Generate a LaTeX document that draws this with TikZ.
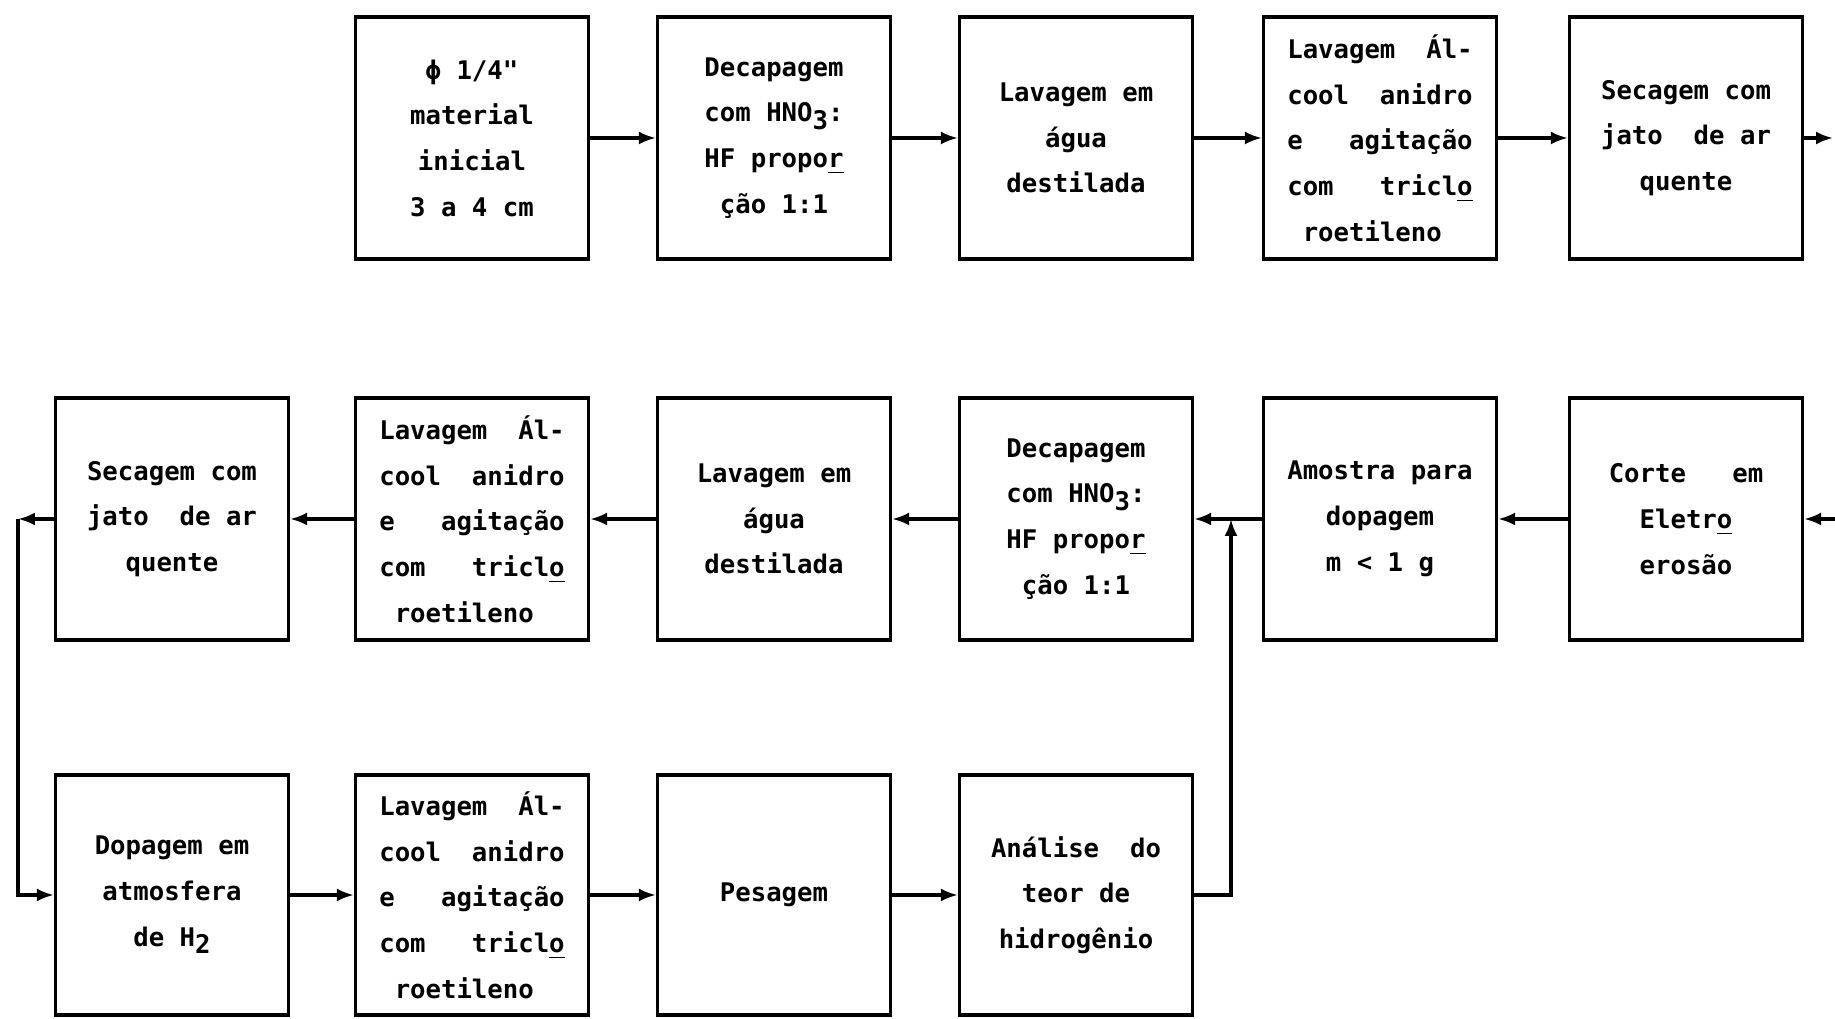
\documentclass[tikz,border=0pt]{standalone}
\usepackage{fontspec}
\setmonofont{DejaVu Sans Mono}
\usetikzlibrary{arrows.meta}
\newcommand{\sbs}[1]{\raisebox{-0.55ex}{#1}}
\newcommand{\lavagemalcool}{Lavagem~~Ál-\\cool~~anidro\\e~~~agitação\\com~~~tricl\underline{o}\\~roetileno}
\tikzset{
  etapa/.style={draw, line width=0.9pt, minimum width=2.33cm, minimum height=2.42cm,
    inner sep=0pt, align=center, font=\ttfamily\bfseries\fontsize{7.3}{13}\selectfont},
  seta/.style={line width=0.9pt, -{Latex[length=1.7mm,width=1.3mm]}}
}
\begin{document}
\begin{tikzpicture}
\useasboundingbox (0,0) rectangle (18.35,10.19);
% primeira linha
\node[etapa] (b1) at (4.72,8.81) {ϕ~1/4"\\material\\inicial\\3~a~4~cm};
\node[etapa] (b2) at (7.74,8.81) {Decapagem\\com HNO\sbs{3}:\\HF propo\underline{r}\\ção 1:1};
\node[etapa] (b3) at (10.76,8.81) {Lavagem em\\água\\destilada};
\node[etapa,align=left] (b4) at (13.80,8.81) {\lavagemalcool};
\node[etapa] (b5) at (16.86,8.81) {Secagem com\\jato~~de~ar\\quente};
% segunda linha
\node[etapa] (c1) at (1.72,5.00) {Secagem com\\jato~~de~ar\\quente};
\node[etapa,align=left] (c2) at (4.72,5.00) {\lavagemalcool};
\node[etapa] (c3) at (7.74,5.00) {Lavagem em\\água\\destilada};
\node[etapa] (c4) at (10.76,5.00) {Decapagem\\com HNO\sbs{3}:\\HF propo\underline{r}\\ção 1:1};
\node[etapa] (c5) at (13.80,5.00) {Amostra para\\dopagem\\m < 1 g};
\node[etapa] (c6) at (16.86,5.00) {Corte~~~em\\Eletr\underline{o}\\erosão};
% terceira linha
\node[etapa,minimum height=2.40cm] (d1) at (1.72,1.24) {Dopagem em\\atmosfera\\de H\sbs{2}};
\node[etapa,minimum height=2.40cm,align=left] (d2) at (4.72,1.24) {\lavagemalcool};
\node[etapa,minimum height=2.40cm] (d3) at (7.74,1.24) {Pesagem};
\node[etapa,minimum height=2.40cm] (d4) at (10.76,1.24) {Análise~~do\\teor de\\hidrogênio};
% setas
\coordinate (saida) at (18.33,8.81);
\coordinate (entrada) at (18.35,5.00);
\coordinate (canto) at (0.18,5.00);
\coordinate (junta) at (12.31,5.00);
\draw[seta] (b1) -- (b2);
\draw[seta] (b2) -- (b3);
\draw[seta] (b3) -- (b4);
\draw[seta] (b4) -- (b5);
\draw[seta] (b5) -- (saida);
\draw[seta] (entrada) -- (c6);
\draw[seta] (c6) -- (c5);
\draw[seta] (c5) -- (c4);
\draw[seta] (c4) -- (c3);
\draw[seta] (c3) -- (c2);
\draw[seta] (c2) -- (c1);
\draw[seta] (c1) -- (canto);
\draw[seta] (canto) |- (d1);
\draw[seta] (d1) -- (d2);
\draw[seta] (d2) -- (d3);
\draw[seta] (d3) -- (d4);
\draw[seta] (d4) -| (junta);
\end{tikzpicture}
\end{document}
